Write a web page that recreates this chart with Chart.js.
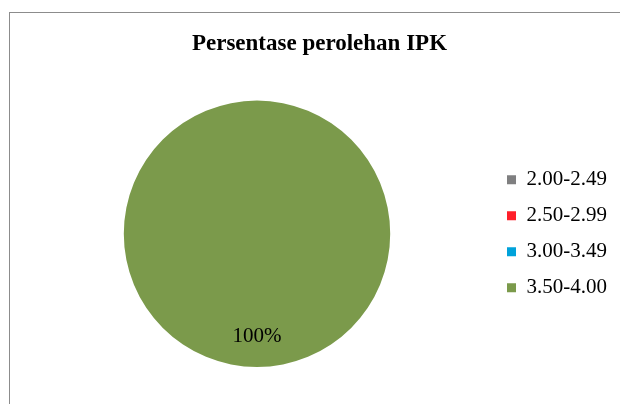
<!DOCTYPE html>
<html>
<head>
<meta charset="utf-8">
<script src="https://cdn.jsdelivr.net/npm/chart.js@4/dist/chart.umd.min.js"></script>
<style>
  html, body { margin: 0; padding: 0; background: #fff; }
  #wrap { position: relative; width: 620px; height: 404px; overflow: hidden; }
  #frame { position: absolute; left: 9px; top: 12px; width: 700px; height: 500px; border: 1.5px solid #8c8c8c; box-sizing: border-box; }
  canvas { position: absolute; left: 0; top: 0; }
</style>
</head>
<body>
<div id="wrap">
  <div id="frame"></div>
  <canvas id="c" width="620" height="404"></canvas>
</div>
<script>
const chartTitle = "Persentase perolehan IPK";
const categories = ["2.00-2.49", "2.50-2.99", "3.00-3.49", "3.50-4.00"];
const percentages = [0, 0, 0, 100];
const sliceColors = ["#7F7F80", "#FF1F2A", "#00A2DA", "#7B9A4B"];

const pctLabels = {
  id: "pctLabels",
  afterDatasetsDraw(chart) {
    const ctx = chart.ctx;
    const meta = chart.getDatasetMeta(0);
    const data = chart.data.datasets[0].data;
    const total = data.reduce((a, b) => a + b, 0);
    ctx.save();
    ctx.font = "21px 'Liberation Serif', 'Times New Roman', serif";
    ctx.fillStyle = "#000";
    ctx.textAlign = "center";
    ctx.textBaseline = "middle";
    meta.data.forEach((arc, i) => {
      if (!data[i]) return;
      const p = arc.getProps(["x", "y", "startAngle", "endAngle", "outerRadius"], true);
      const mid = (p.startAngle + p.endAngle) / 2;
      const r = p.outerRadius * 0.77;
      const txt = Math.round(data[i] / total * 100) + "%";
      ctx.fillText(txt, p.x + Math.cos(mid) * r, p.y + Math.sin(mid) * r);
    });
    ctx.restore();
  }
};

new Chart(document.getElementById("c"), {
  type: "pie",
  data: {
    labels: categories,
    datasets: [{
      data: percentages,
      backgroundColor: sliceColors,
      borderWidth: 0
    }]
  },
  options: {
    responsive: false,
    animation: false,
    layout: { padding: { top: 20, bottom: 37, left: 22, right: 3 } },
    plugins: {
      title: {
        display: true,
        text: chartTitle,
        color: "#000",
        font: { family: "'Liberation Serif', 'Times New Roman', serif", size: 23, weight: "bold", lineHeight: 1.2 },
        padding: { top: 10, bottom: 43 }
      },
      legend: {
        position: "right",
        align: "center",
        fullSize: false,
        labels: {
          boxWidth: 9,
          boxHeight: 9,
          padding: 15,
          color: "#000",
          font: { family: "'Liberation Serif', 'Times New Roman', serif", size: 21 }
        }
      },
      tooltip: { enabled: false }
    }
  },
  plugins: [pctLabels]
});
</script>
</body>
</html>
